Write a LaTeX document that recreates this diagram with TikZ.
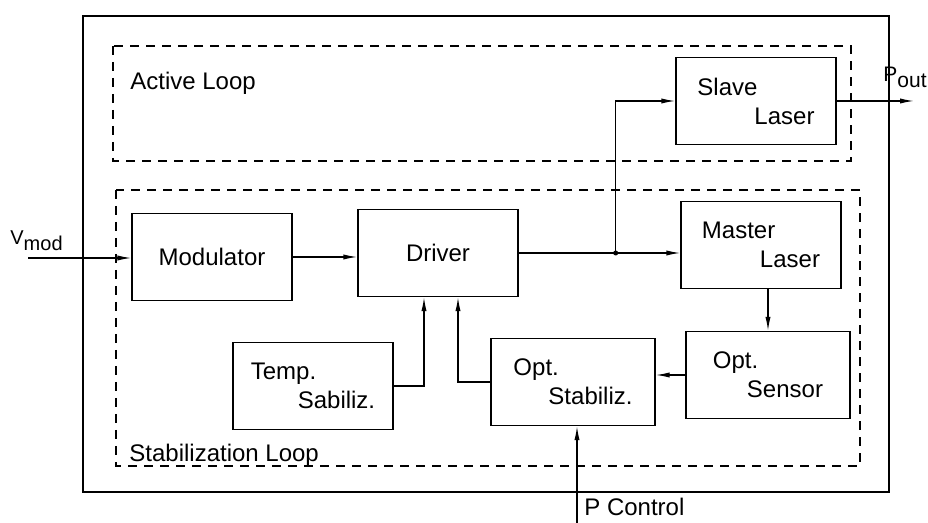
\documentclass[tikz,border=0pt]{standalone}
\usepackage{fontspec}
\setmainfont{Liberation Sans}
\usetikzlibrary{arrows.meta,calc}

\newcommand{\lowtxt}[1]{\raisebox{-3pt}{#1}}

\begin{document}
\begin{tikzpicture}[x=0.5pt,y=-0.5pt,
    font=\fontsize{12}{14.5}\selectfont,
    blk/.style={draw,line width=0.65pt,minimum width=80pt,minimum height=43.5pt,
                align=left,inner sep=2pt},
    loopbox/.style={draw,dash pattern=on 4.5pt off 3.5pt,line width=0.65pt},
    lbl/.style={inner sep=0pt},
    arr/.style={-{Latex[length=7pt,width=2.6pt]},line width=0.65pt}]
  \useasboundingbox (0,0) rectangle (928,523);
  % outer frame and the two loops
  \draw[line width=0.65pt] (83,16) rectangle (889,492);
  \draw[loopbox] (113,46) rectangle (851,161);
  \draw[loopbox] (116,190) rectangle (860,466);
  \node[lbl,anchor=base west] (active) at (130,90) {Active Loop};
  \node[lbl,anchor=base west] (stabloop) at (129,462) {Stabilization Loop};
  % blocks
  \node[blk] (modulator) at (212,257) {Modulator};
  \node[blk] (driver) at (438,253) {Driver};
  \node[blk] (slave) at (756,101) {Slave\\\hspace*{28.5pt}Laser};
  \node[blk] (master) at (761,245) {Master\\\hspace*{29pt}Laser};
  \node[blk,minimum width=82pt] (sensor) at (768,375) {Opt.\\\hspace*{17pt}Sensor};
  \node[blk,minimum width=82pt] (optstab) at (573,382) {Opt.\\\hspace*{17.5pt}Stabiliz.};
  \node[blk] (temp) at (313,386) {Temp.\\\hspace*{23.5pt}Sabiliz.};
  % inputs and outputs
  \coordinate (vin) at (28,258);
  \coordinate (pout) at (914,101);
  \coordinate (pin) at (577,523);
  \node[lbl,anchor=base west,font=\fontsize{10}{12}\selectfont] (vmod) at (10,245) {V\lowtxt{mod}};
  \node[lbl,anchor=base west,font=\fontsize{10.5}{12}\selectfont] (poutlbl) at (883,82) {P\lowtxt{out}};
  \node[lbl,anchor=base west,font=\fontsize{12}{14}\selectfont] (pctl) at (584,516) {P Control};
  % connections
  \coordinate (split) at ($(driver.east)!0.6!(driver.east -| master.west)$);
  \draw[arr] (vin) -- (vin -| modulator.west);
  \draw[arr] (modulator.east) -- (modulator.east -| driver.west);
  \draw[arr] (driver.east) -- (driver.east -| master.west);
  \draw[arr] (split) |- (slave.west);
  \fill (split) circle (2.5);
  \draw[arr] (slave.east) -- (pout);
  \draw[arr] (sensor.north |- master.south) -- (sensor.north);
  \draw[arr] (sensor.west) -- (sensor.west -| optstab.east);
  \draw[arr] (optstab.west) -| ($(driver.south)+(20,0)$);
  \draw[arr] (temp.east) -| ($(driver.south)+(-14,0)$);
  \draw[arr] (pin) -- (pin |- optstab.south);
\end{tikzpicture}
\end{document}
